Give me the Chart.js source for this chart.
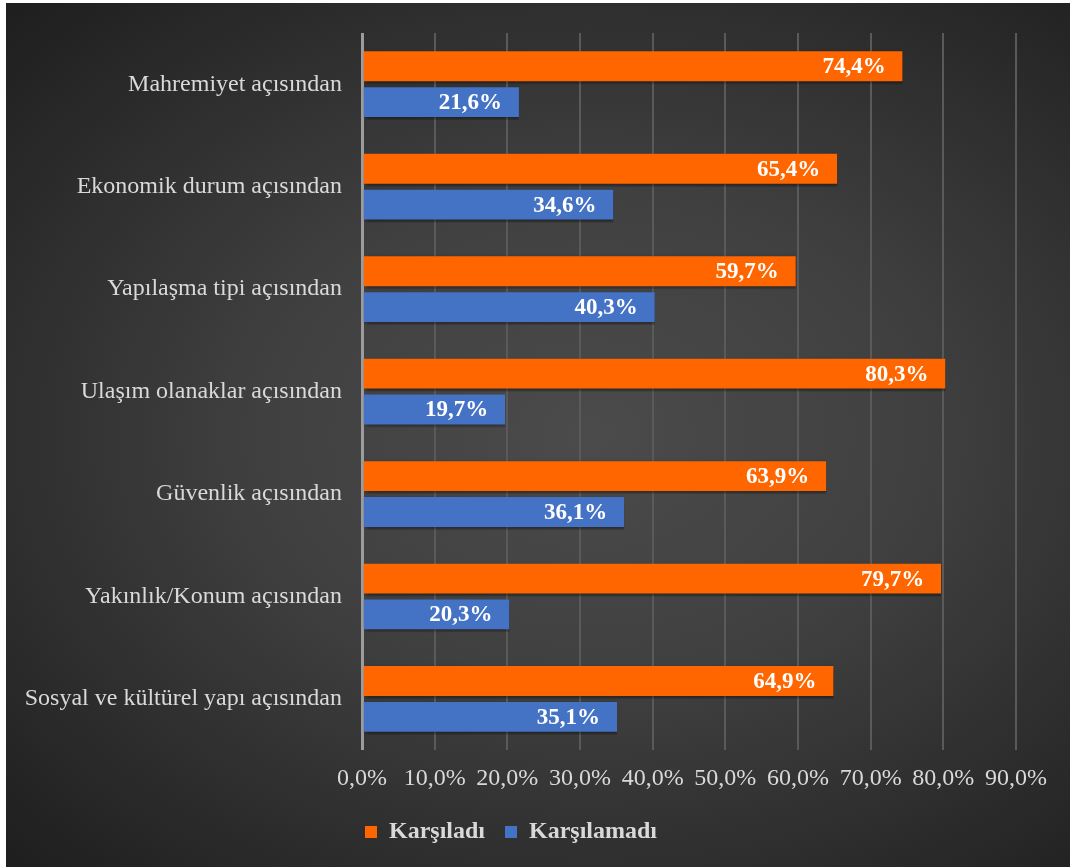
<!DOCTYPE html>
<html>
<head>
<meta charset="utf-8">
<script src="https://cdn.jsdelivr.net/npm/chart.js@4"></script>
<style>
  html, body { margin: 0; padding: 0; background: #fff; }
  #wrap {
    position: absolute; left: 6px; top: 3px; width: 1064px; height: 864px;
    background: radial-gradient(ellipse farthest-corner at 55% 50%, #4b4b4b 0%, #404040 40%, #2c2c2c 75%, #1e1e1e 100%);
  }
</style>
</head>
<body>
<div id="wrap"><canvas id="chart" width="1064" height="864"></canvas></div>
<script>
// categories and values
var categories = [
  "Mahremiyet açısından",
  "Ekonomik durum açısından",
  "Yapılaşma tipi açısından",
  "Ulaşım olanaklar açısından",
  "Güvenlik açısından",
  "Yakınlık/Konum açısından",
  "Sosyal ve kültürel yapı açısından"
];
var karsiladi = [74.4, 65.4, 59.7, 80.3, 63.9, 79.7, 64.9];
var karsilamadi = [21.6, 34.6, 40.3, 19.7, 36.1, 20.3, 35.1];

function pct(v) {
  return v.toFixed(1).replace('.', ',') + '%';
}

// draws the value inside the end of each bar
var valueLabels = {
  id: 'valueLabels',
  afterDatasetsDraw: function (chart) {
    var ctx = chart.ctx;
    ctx.save();
    ctx.font = 'bold 23px "Liberation Serif"';
    ctx.fillStyle = '#ffffff';
    ctx.textAlign = 'right';
    ctx.textBaseline = 'middle';
    chart.data.datasets.forEach(function (ds, i) {
      chart.getDatasetMeta(i).data.forEach(function (bar, j) {
        ctx.fillText(pct(ds.data[j]), bar.x - 17, bar.y + 1);
      });
    });
    ctx.restore();
  }
};

// soft shadow under the bars
var barShadow = {
  id: 'barShadow',
  beforeDatasetsDraw: function (chart) {
    var ctx = chart.ctx;
    ctx.save();
    ctx.shadowColor = 'rgba(0,0,0,0.45)';
    ctx.shadowBlur = 4;
    ctx.shadowOffsetX = 2;
    ctx.shadowOffsetY = 2;
  },
  afterDatasetsDraw: function (chart) {
    chart.ctx.restore();
  }
};

new Chart(document.getElementById('chart'), {
  type: 'bar',
  data: {
    labels: categories,
    datasets: [
      {
        label: 'Karşıladı',
        data: karsiladi,
        backgroundColor: '#FF6600',
        borderColor: 'rgba(0,0,0,0)',
        borderWidth: { top: 3, bottom: 3, left: 0, right: 0 },
        borderSkipped: false
      },
      {
        label: 'Karşılamadı',
        data: karsilamadi,
        backgroundColor: '#4472C4',
        borderColor: 'rgba(0,0,0,0)',
        borderWidth: { top: 3, bottom: 3, left: 0, right: 0 },
        borderSkipped: false
      }
    ]
  },
  options: {
    indexAxis: 'y',
    responsive: false,
    animation: false,
    categoryPercentage: 0.70,
    barPercentage: 1.0,
    layout: { padding: { top: 30, right: 54, left: 0, bottom: 13 } },
    plugins: {
      legend: {
        position: 'bottom',
        labels: {
          color: '#d9d9d9',
          font: { family: '"Liberation Serif"', size: 24, weight: 'bold' },
          boxWidth: 12,
          boxHeight: 12,
          padding: 20
        }
      },
      tooltip: { enabled: false }
    },
    scales: {
      x: {
        min: 0,
        max: 90,
        ticks: {
          stepSize: 10,
          color: '#d9d9d9',
          padding: 14,
          font: { family: '"Liberation Serif"', size: 24 },
          callback: function (v) { return pct(v); }
        },
        grid: {
          color: function (c) { return c.tick && c.tick.value === 0 ? '#9c9c9c' : '#5a5a5a'; },
          lineWidth: function (c) { return c.tick && c.tick.value === 0 ? 3 : 2; },
          drawTicks: false
        },
        border: { display: false },
        afterFit: function (scale) { scale.height -= 7; }
      },
      y: {
        ticks: {
          color: '#d9d9d9',
          padding: 20,
          font: { family: '"Liberation Serif"', size: 24 }
        },
        grid: { display: false, drawTicks: false },
        border: { display: false },
        afterFit: function (scale) {
          scale.width = 356;
          scale.paddingTop = 0;
          scale.paddingBottom = 0;
        }
      }
    }
  },
  plugins: [barShadow, valueLabels]
});
</script>
</body>
</html>
